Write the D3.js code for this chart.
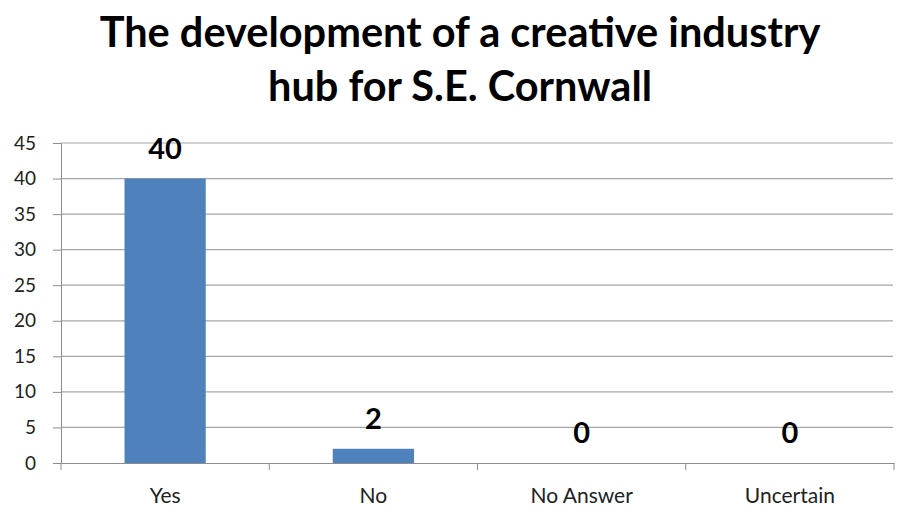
<!DOCTYPE html>
<html lang="en">
<head>
  <meta charset="UTF-8">
  <title>Creative industry hub</title>
</head>
<body>
<style>
  * {
    padding: 0;
    margin: 0;
  }

  body {
    background: #fff;
  }

  #app {
    width: 898px;
    height: 522px;
  }

  #app svg {
    display: block;
  }
</style>

<div id="app"></div>

<script src="https://cdn.jsdelivr.net/npm/d3@7/dist/d3.min.js"></script>
<script>
  var categories = ['Yes', 'No', 'No Answer', 'Uncertain'];
  var counts = [40, 2, 0, 0];
  var yTicks = [0, 5, 10, 15, 20, 25, 30, 35, 40, 45];
  var titleLines = ['The development of a creative industry', 'hub for S.E. Cornwall'];

  function drawChart() {
    var width = 898, height = 522,
      margin = {top: 143, right: 4, bottom: 59, left: 61},
      font = 'Lato, "Open Sans", sans-serif';

    var svg = d3.select('#app').append('svg')
      .attr('width', width).attr('height', height);

    var x = d3.scaleBand()
      .domain(categories)
      .range([margin.left, width - margin.right])
      .paddingInner(0.61).paddingOuter(0.305);

    var y = d3.scaleLinear()
      .domain([0, 45])
      .range([height - margin.bottom, margin.top]);

    // title
    svg.append('g').selectAll('text')
      .data(titleLines)
      .join('text')
      .attr('x', 460)
      .attr('y', (d, i) => 47 + i * 54)
      .attr('text-anchor', 'middle')
      .attr('font-family', font)
      .attr('font-weight', 'bold')
      .attr('font-size', 41.5)
      .attr('fill', '#000')
      .text(d => d);

    // gridlines
    svg.append('g')
      .selectAll('line')
      .data(yTicks.filter(d => d > 0))
      .join('line')
      .attr('x1', margin.left).attr('x2', width - 5)
      .attr('y1', d => y(d)).attr('y2', d => y(d))
      .attr('stroke', '#a6a6a6').attr('stroke-width', 1.2);

    // y axis
    var yAxis = svg.append('g')
      .attr('transform', 'translate(' + margin.left + ',0)')
      .call(d3.axisLeft(y).tickValues(yTicks).tickSize(8).tickPadding(17));
    yAxis.select('.domain').attr('stroke', '#8c8c8c');
    yAxis.selectAll('.tick line').attr('stroke', '#8c8c8c');
    yAxis.selectAll('.tick text')
      .attr('font-family', font).attr('font-size', 19).attr('fill', '#222');

    // x axis
    var xAxis = svg.append('g')
      .attr('transform', 'translate(0,' + y(0) + ')')
      .call(d3.axisBottom(x).tickSize(0).tickPadding(25));
    xAxis.select('.domain').attr('stroke', '#8c8c8c');
    xAxis.selectAll('.tick text')
      .attr('font-family', font).attr('font-size', 21).attr('fill', '#222');

    // category separators
    var step = x.step();
    var edges = d3.range(categories.length + 1).map(i => margin.left + i * step);
    xAxis.append('g').selectAll('line')
      .data(edges)
      .join('line')
      .attr('x1', d => d).attr('x2', d => d)
      .attr('y1', 0).attr('y2', 7)
      .attr('stroke', '#8c8c8c');

    // bars
    svg.append('g')
      .selectAll('rect')
      .data(counts)
      .join('rect')
      .attr('x', (d, i) => x(categories[i]))
      .attr('width', x.bandwidth())
      .attr('y', d => y(d))
      .attr('height', d => y(0) - y(d))
      .attr('fill', '#4f81bd');

    // value labels
    svg.append('g')
      .selectAll('text')
      .data(counts)
      .join('text')
      .attr('x', (d, i) => x(categories[i]) + x.bandwidth() / 2)
      .attr('y', d => y(d) - 20)
      .attr('text-anchor', 'middle')
      .attr('font-family', font)
      .attr('font-weight', 'bold')
      .attr('font-size', 29)
      .attr('fill', '#000')
      .text(d => d);
  }

  drawChart();
</script>
</body>
</html>
